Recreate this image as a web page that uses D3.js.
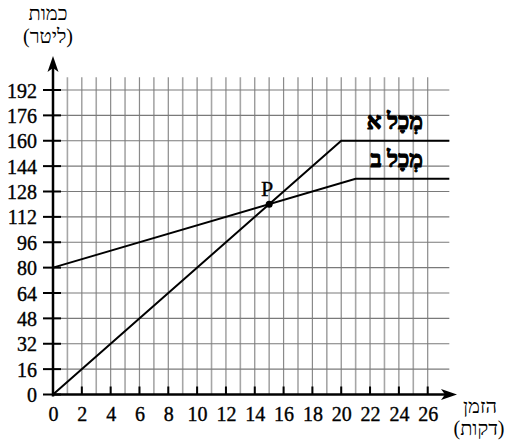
<!DOCTYPE html>
<html>
<head>
<meta charset="utf-8">
<script src="https://cdn.jsdelivr.net/npm/d3@7/dist/d3.min.js"></script>
<style>
  html, body { margin: 0; padding: 0; background: #fff; }
  svg { display: block; }
  svg text { font-family: "Liberation Serif", Tinos, "Times New Roman", serif !important; fill: #000; }
</style>
</head>
<body>
<svg id="chart" width="509" height="443"></svg>
<script>
// Time axis ticks (minutes) and volume axis ticks (liters)
const xTicks = [0, 2, 4, 6, 8, 10, 12, 14, 16, 18, 20, 22, 24, 26];
const yTicks = [0, 16, 32, 48, 64, 80, 96, 112, 128, 144, 160, 176, 192];
const xGrid = d3.range(1, 27);          // vertical grid every minute
const yGrid = d3.range(16, 201, 16);    // horizontal grid every 16 liters

// Vessel A: fills from 0 to 160 L in 20 minutes, then stays full
const vesselA = [[0, 0], [20, 160], [27.5, 160]];
// Vessel B: starts at 80 L, reaches 136 L at 21 minutes, then stays
const vesselB = [[0, 80], [21, 136], [27.5, 136]];
// Intersection point P
const pointP = [15, 120];

const labelA = "מְכָל א";
const labelB = "מְכָל ב";

const svg = d3.select("#chart");

const x = d3.scaleLinear().domain([0, 26]).range([53, 427.7]);
const y = d3.scaleLinear().domain([0, 192]).range([394.5, 90]);

// grid
const grid = svg.append("g");
grid.selectAll("line.v").data(xGrid).join("line")
  .attr("class", "v")
  .attr("x1", d => x(d)).attr("x2", d => x(d))
  .attr("y1", y(0)).attr("y2", y(200))
  .attr("stroke", d => d % 2 ? "#a6a6a6" : "#8a8a8a")
  .attr("stroke-width", d => d % 2 ? 1.6 : 1.2);
grid.selectAll("line.h").data(yGrid).join("line")
  .attr("class", "h")
  .attr("x1", x(0)).attr("x2", x(27.5))
  .attr("y1", d => y(d)).attr("y2", d => y(d))
  .attr("stroke", "#7a7a7a")
  .attr("stroke-width", 1.2);

// data lines
const line = d3.line().x(d => x(d[0])).y(d => y(d[1]));
[vesselA, vesselB].forEach(s => {
  svg.append("path")
    .attr("d", line(s))
    .attr("fill", "none")
    .attr("stroke", "#000")
    .attr("stroke-width", 2);
});

// axes
const xAxis = d3.axisBottom(x).tickValues(xTicks).tickSize(0).tickPadding(12);
const gx = svg.append("g").attr("transform", `translate(0,${y(0)})`).call(xAxis);
gx.select(".domain").remove();
gx.selectAll("text").style("font-size", "20px")
  .attr("stroke", "#000").attr("stroke-width", 0.35);

const yAxis = d3.axisLeft(y).tickValues(yTicks).tickSize(0).tickPadding(16);
const gy = svg.append("g").attr("transform", `translate(${x(0)},0)`).call(yAxis);
gy.select(".domain").remove();
gy.selectAll("text").style("font-size", "20px").attr("dy", "0.35em")
  .attr("stroke", "#000").attr("stroke-width", 0.35);

// tick marks
svg.append("g").selectAll("line").data(xTicks.filter(d => d > 0)).join("line")
  .attr("x1", d => x(d)).attr("x2", d => x(d))
  .attr("y1", y(0) - 8).attr("y2", y(0))
  .attr("stroke", "#000").attr("stroke-width", 2);
svg.append("g").selectAll("line").data(yTicks).join("line")
  .attr("x1", x(0) - 10).attr("x2", x(0) + 8)
  .attr("y1", d => y(d)).attr("y2", d => y(d))
  .attr("stroke", "#000").attr("stroke-width", 2);

// axis lines with arrows
svg.append("line").attr("x1", x(0)).attr("x2", 452).attr("y1", y(0)).attr("y2", y(0))
  .attr("stroke", "#000").attr("stroke-width", 2.5);
svg.append("path")
  .attr("d", `M457,${y(0)} L441,${y(0) - 5.5} L445,${y(0)} L441,${y(0) + 5.5} Z`)
  .attr("fill", "#000");
svg.append("line").attr("x1", x(0)).attr("x2", x(0)).attr("y1", y(0) + 2).attr("y2", 62)
  .attr("stroke", "#000").attr("stroke-width", 2.5);
svg.append("path")
  .attr("d", `M${x(0)},56 L${x(0) - 5.5},72 L${x(0)},68 L${x(0) + 5.5},72 Z`)
  .attr("fill", "#000");

// point P
svg.append("circle").attr("cx", x(pointP[0])).attr("cy", y(pointP[1])).attr("r", 3.5).attr("fill", "#000");
svg.append("text").attr("x", x(pointP[0]) - 2).attr("y", y(pointP[1]) - 8)
  .attr("text-anchor", "middle").style("font-size", "22px")
  .attr("stroke", "#000").attr("stroke-width", 0.3).text("P");

// series labels (heavy weight)
[[labelA, 129], [labelB, 167]].forEach(([t, by]) => {
  svg.append("text").attr("x", 423).attr("y", by).attr("text-anchor", "end")
    .style("font-size", "23px").style("font-weight", "bold")
    .attr("stroke", "#000").attr("stroke-width", 1.1).attr("stroke-linejoin", "round")
    .text(t);
});

// axis titles
svg.append("text").attr("x", 48).attr("y", 20).attr("text-anchor", "middle")
  .style("font-size", "20px").text("כמות");
svg.append("text").attr("x", 48).attr("y", 43).attr("text-anchor", "middle")
  .style("font-size", "20px").text("(ליטר)");
svg.append("text").attr("x", 480).attr("y", 413).attr("text-anchor", "middle")
  .style("font-size", "20px").text("הזמן");
svg.append("text").attr("x", 479).attr("y", 435).attr("text-anchor", "middle")
  .style("font-size", "20px").text("(דקות)");
</script>
</body>
</html>
